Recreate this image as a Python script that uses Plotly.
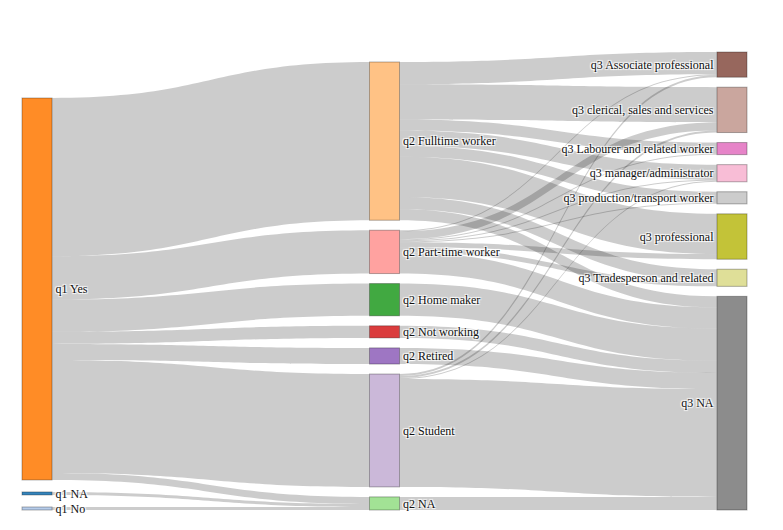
import plotly.graph_objects as go

# Node labels (alphabetical order, colours follow category20)
labels = [
    "q1 NA", "q1 No", "q1 Yes",
    "q2 Fulltime worker", "q2 Home maker", "q2 NA", "q2 Not working",
    "q2 Part-time worker", "q2 Retired", "q2 Student",
    "q3 Associate professional", "q3 clerical, sales and services",
    "q3 Labourer and related worker", "q3 manager/administrator", "q3 NA",
    "q3 production/transport worker", "q3 professional",
    "q3 Tradesperson and related",
]
node_colors = [
    "#1f77b4", "#aec7e8", "#ff7f0e", "#ffbb78", "#2ca02c", "#98df8a",
    "#d62728", "#ff9896", "#9467bd", "#c5b0d5", "#8c564b", "#c49c94",
    "#e377c2", "#f7b6d2", "#7f7f7f", "#c7c7c7", "#bcbd22", "#dbdb8d",
]

# Display order of the categories in each column (top to bottom)
column_order = [
    ["q1 Yes", "q1 NA", "q1 No"],
    ["q2 Fulltime worker", "q2 Part-time worker", "q2 Home maker",
     "q2 Not working", "q2 Retired", "q2 Student", "q2 NA"],
    ["q3 Associate professional", "q3 clerical, sales and services",
     "q3 Labourer and related worker", "q3 manager/administrator",
     "q3 production/transport worker", "q3 professional",
     "q3 Tradesperson and related", "q3 NA"],
]

# Links: source label, target label, value
link_source = [
    "q1 Yes", "q1 Yes", "q1 Yes", "q1 Yes", "q1 Yes", "q1 Yes", "q1 Yes",
    "q1 NA", "q1 No",
    "q2 Fulltime worker", "q2 Fulltime worker", "q2 Fulltime worker",
    "q2 Fulltime worker", "q2 Fulltime worker", "q2 Fulltime worker",
    "q2 Fulltime worker", "q2 Fulltime worker",
    "q2 Part-time worker", "q2 Part-time worker", "q2 Part-time worker",
    "q2 Part-time worker", "q2 Part-time worker", "q2 Part-time worker",
    "q2 Part-time worker", "q2 Part-time worker",
    "q2 Home maker", "q2 Not working", "q2 Retired",
    "q2 Student", "q2 Student", "q2 Student", "q2 Student",
    "q2 NA",
]
link_target = [
    "q2 Fulltime worker", "q2 Part-time worker", "q2 Home maker",
    "q2 Not working", "q2 Retired", "q2 Student", "q2 NA",
    "q2 NA", "q2 NA",
    "q3 Associate professional", "q3 clerical, sales and services",
    "q3 Labourer and related worker", "q3 manager/administrator",
    "q3 production/transport worker", "q3 professional",
    "q3 Tradesperson and related", "q3 NA",
    "q3 Associate professional", "q3 clerical, sales and services",
    "q3 Labourer and related worker", "q3 manager/administrator",
    "q3 production/transport worker", "q3 professional",
    "q3 Tradesperson and related", "q3 NA",
    "q3 NA", "q3 NA", "q3 NA",
    "q3 Associate professional", "q3 clerical, sales and services",
    "q3 manager/administrator", "q3 NA",
    "q3 NA",
]
link_value = [
    157, 43, 32, 12, 16, 112, 7,
    3, 3,
    22, 35, 11, 15, 11, 40, 12, 11,
    1, 8, 1, 1, 1, 5, 5, 21,
    32, 12, 16,
    2, 2, 1, 107,
    13,
]


def rgba(hex_color, alpha):
    h = hex_color.lstrip("#")
    r, g, b = int(h[0:2], 16), int(h[2:4], 16), int(h[4:6], 16)
    return f"rgba({r},{g},{b},{alpha})"


W, H = 783, 530
margin = dict(l=14, r=44, t=44, b=28)
pad, thickness = 10, 30
column_pad = [12, 10, 10]
dom_w = W - margin["l"] - margin["r"]
dom_h = H - margin["t"] - margin["b"]

idx = {lab: i for i, lab in enumerate(labels)}

# node values = max(in, out)
n_in = {lab: 0 for lab in labels}
n_out = {lab: 0 for lab in labels}
for s, t, v in zip(link_source, link_target, link_value):
    n_out[s] += v
    n_in[t] += v
node_val = {lab: max(n_in[lab], n_out[lab]) for lab in labels}

# scale like d3-sankey: px per unit
ky = min((dom_h - (len(c) - 1) * pad) / sum(node_val[l] for l in c)
         for c in column_order)

node_x = [0.0] * len(labels)
node_y = [0.0] * len(labels)
ncol = len(column_order)
for ci, col in enumerate(column_order):
    xc = (thickness / 2 + ci * (dom_w - thickness) / (ncol - 1)) / dom_w
    # stack from the bottom
    y = dom_h
    for lab in reversed(col):
        h = node_val[lab] * ky
        node_x[idx[lab]] = xc
        node_y[idx[lab]] = (y - h / 2) / dom_h
        y -= h + column_pad[ci]

fig = go.Figure(go.Sankey(
    arrangement="fixed",
    node=dict(
        label=labels,
        color=[rgba(c, 0.9) for c in node_colors],
        x=node_x,
        y=node_y,
        pad=pad,
        thickness=thickness,
        line=dict(color="rgba(0,0,0,0.3)", width=1),
    ),
    link=dict(
        source=[idx[s] for s in link_source],
        target=[idx[t] for t in link_target],
        value=link_value,
        color="rgba(0,0,0,0.2)",
    ),
    textfont=dict(family="Liberation Serif", size=12, color="#111"),
))

fig.update_layout(
    width=W, height=H,
    margin=margin,
    paper_bgcolor="white",
    font=dict(family="Liberation Serif", size=12),
)

fig.write_html("out.html")
